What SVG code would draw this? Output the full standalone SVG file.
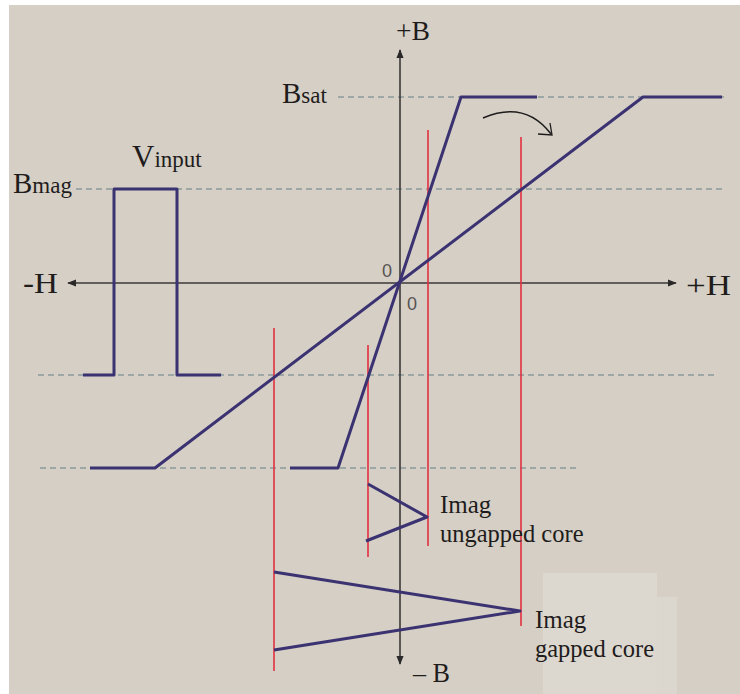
<svg xmlns="http://www.w3.org/2000/svg" width="740" height="694" viewBox="0 0 740 694">
<defs>
<style>
.t{font-family:"Liberation Serif","Times New Roman",serif;fill:#1f1c1c}
.z{font-family:"Liberation Sans",Arial,sans-serif;fill:#575353;font-size:18px}
.ax{stroke:#3a3838;stroke-width:1.6;fill:none}
.dash{stroke:#8a9c9c;stroke-width:1.3;stroke-dasharray:6 4;fill:none}
.cv{stroke:#3b3272;stroke-width:3;fill:none;stroke-linejoin:round}
.red{stroke:#e23040;stroke-width:1.6;fill:none}
</style>
<marker id="ah" viewBox="0 0 10 10" refX="9" refY="5" markerWidth="9" markerHeight="9" markerUnits="userSpaceOnUse" orient="auto">
<path d="M0,1 L10,5 L0,9 Z" fill="#2a2828"/>
</marker>
</defs>
<rect x="0" y="0" width="740" height="694" fill="#ffffff"/>
<rect x="9" y="5" width="731" height="689" fill="#d5cfc5"/>
<rect x="543" y="573" width="114" height="121" fill="#dcd7cf"/>
<rect x="657" y="597" width="20" height="97" fill="#dbd6ce"/>

<g id="guides">
<line class="dash" x1="338" y1="97" x2="724" y2="97"/>
<line class="dash" x1="76" y1="189" x2="722" y2="189"/>
<line class="dash" x1="38" y1="375" x2="718" y2="375"/>
<line class="dash" x1="40" y1="468" x2="578" y2="468"/>
</g>

<g id="axes">
<line class="ax" x1="398" y1="283" x2="68" y2="283" marker-end="url(#ah)"/>
<line class="ax" x1="398" y1="283" x2="676" y2="283" marker-end="url(#ah)"/>
<line class="ax" x1="400" y1="283" x2="400" y2="50" marker-end="url(#ah)"/>
<line class="ax" x1="400" y1="283" x2="400" y2="664" marker-end="url(#ah)"/>
</g>

<g id="red-lines">
<line class="red" x1="428" y1="130" x2="428" y2="546"/>
<line class="red" x1="521" y1="137" x2="521" y2="626"/>
<line class="red" x1="274" y1="328" x2="274" y2="671"/>
<line class="red" x1="368" y1="345" x2="368" y2="557"/>
</g>

<g id="vinput-pulse">
<polyline class="cv" points="83,375 114,375 114,189 177,189 177,375 221,375"/>
</g>

<g id="gapped-curve">
<polyline class="cv" points="90,468 155,468 643,97 722,97"/>
</g>

<g id="ungapped-curve">
<polyline class="cv" points="290,468 338,468 461,97 537,97"/>
</g>

<g id="imag-ungapped">
<polyline class="cv" points="368,484 427,517 366,541"/>
</g>

<g id="imag-gapped">
<polyline class="cv" points="274,572 520,611 274,650"/>
</g>

<g id="rotation-arrow">
<path d="M483,118 Q525,100 551,134" stroke="#1e1c1c" stroke-width="1.5" fill="none"/>
<path d="M538,134 L552,135 L550,123" stroke="#1e1c1c" stroke-width="1.3" fill="none"/>
</g>

<g id="labels">
<text class="t" x="396" y="40" font-size="28" textLength="34" lengthAdjust="spacingAndGlyphs">+B</text>
<text class="t" x="413" y="682" font-size="28" textLength="37" lengthAdjust="spacingAndGlyphs">– B</text>
<text class="t" x="686" y="295" font-size="29" textLength="45" lengthAdjust="spacingAndGlyphs">+H</text>
<text class="t" x="23" y="293" font-size="29" textLength="35" lengthAdjust="spacingAndGlyphs">-H</text>
<text class="t" x="282" y="103" font-size="29">B<tspan font-size="23">sat</tspan></text>
<text class="t" x="13" y="193" font-size="29">B<tspan font-size="23">mag</tspan></text>
<text class="t" x="132" y="167" font-size="31">V<tspan font-size="23">input</tspan></text>
<text class="t" x="440" y="513" font-size="25">Imag</text>
<text class="t" x="440" y="542" font-size="24.5">ungapped core</text>
<text class="t" x="535" y="628" font-size="25">Imag</text>
<text class="t" x="535" y="657" font-size="24.5">gapped core</text>
<text class="z" x="382" y="277">0</text>
<text class="z" x="407" y="310">0</text>
</g>
</svg>
